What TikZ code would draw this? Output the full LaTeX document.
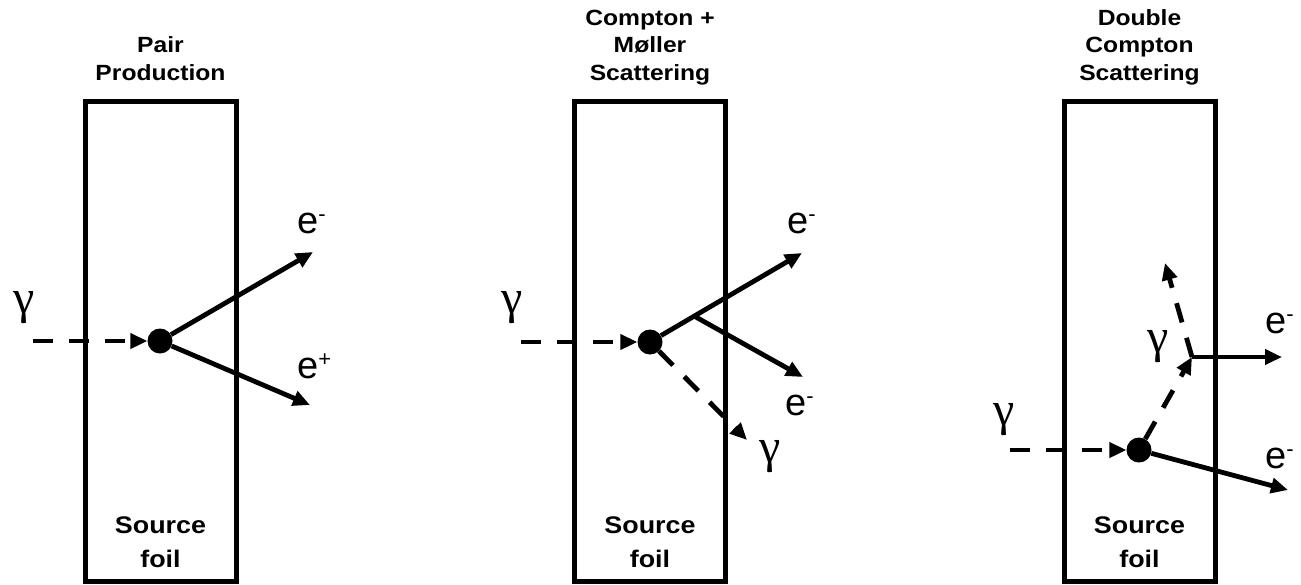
\documentclass[tikz,border=0pt]{standalone}
\usepackage{fontspec}
\setmainfont{Liberation Sans}
\newfontfamily\lblfont{Liberation Sans}[FakeStretch=1.12]
\newfontfamily\gfont{Liberation Serif}
\usetikzlibrary{arrows.meta}
\newcommand\eSup[1]{\raisebox{12pt}{\fontsize{22}{22}\selectfont #1}}
\begin{document}
\begin{tikzpicture}[x=1pt,y=-1pt,
 foil/.style={draw, line width=5pt, minimum width=151pt, minimum height=480pt, inner sep=0pt},
 vertex/.style={circle, fill, minimum size=25pt, inner sep=0pt},
 ptc/.style={line width=4.8pt, -{Triangle[length=17pt,width=15pt]}},
 photon/.style={ptc, dash pattern=on 20pt off 16pt},
 ttl/.style={font=\lblfont\bfseries\fontsize{22}{27.5}\selectfont, align=center, anchor=base, inner sep=0pt},
 src/.style={font=\lblfont\bfseries\fontsize{24}{34}\selectfont, align=center, anchor=base, inner sep=0pt},
 elbl/.style={font=\fontsize{38}{38}\selectfont, anchor=base west, inner sep=0pt},
 glbl/.style={font=\gfont\fontsize{48}{48}\selectfont, inner sep=0pt}]
\useasboundingbox (0,0) rectangle (1301,584);

% ---------- Panel 1: Pair production
\node[foil] (f1) at (160.5,341) {};
\node[ttl] (t1) at (160.5,80) {Pair\\Production};
\node[src] (s1) at (160.5,567) {Source\\foil};
\node[vertex] (d1) at (160,341) {};
\coordinate (g1) at (33,341);
\coordinate (a1) at (313,252);
\coordinate (b1) at (310,405);
\draw[photon] (g1) -- (d1);
\draw[ptc] (d1) -- (a1);
\draw[ptc] (d1) -- (b1);
\node[glbl] (gl1) at (24,308) {γ};
\node[elbl] (el1) at (297,233) {e\eSup{-}};
\node[elbl] (pl1) at (297,378) {e\eSup{+}};

% ---------- Panel 2: Compton + Moller
\node[foil] (f2) at (650,341) {};
\node[ttl] (t2) at (650,80) {Compton +\\Møller\\Scattering};
\node[src] (s2) at (650,567) {Source\\foil};
\node[vertex] (d2) at (650,342) {};
\coordinate (g2) at (521,342);
\coordinate (a2) at (802,253);
\coordinate (m2) at (694,316);
\coordinate (b2) at (803,377);
\coordinate (c2) at (747,440);
\draw[photon] (g2) -- (d2);
\draw[ptc] (d2) -- (a2);
\draw[ptc] (m2) -- (b2);
\draw[photon] (d2) -- (c2);
\node[glbl] (gl2) at (512,308) {γ};
\node[glbl] (gr2) at (770,457) {γ};
\node[elbl] (el2) at (787,233) {e\eSup{-}};
\node[elbl] (em2) at (785,415) {e\eSup{-}};

% ---------- Panel 3: Double Compton
\node[foil] (f3) at (1139.5,341) {};
\node[ttl] (t3) at (1139.5,80) {Double\\Compton\\Scattering};
\node[src] (s3) at (1139.5,567) {Source\\foil};
\node[vertex] (d3) at (1139,450) {};
\coordinate (g3) at (1010,450);
\coordinate (k3) at (1192,357);
\coordinate (u3) at (1165,263);
\coordinate (a3) at (1282,357);
\coordinate (b3) at (1288,490);
\draw[photon] (g3) -- (d3);
\draw[photon] (d3) -- (k3);
\draw[photon] (k3) -- (u3);
\draw[ptc] (k3) -- (a3);
\draw[ptc] (d3) -- (b3);
\node[glbl] (gl3) at (1004,420) {γ};
\node[glbl] (gm3) at (1158,347) {γ};
\node[elbl] (el3) at (1265,333) {e\eSup{-}};
\node[elbl] (em3) at (1265,468) {e\eSup{-}};
\end{tikzpicture}
\end{document}
